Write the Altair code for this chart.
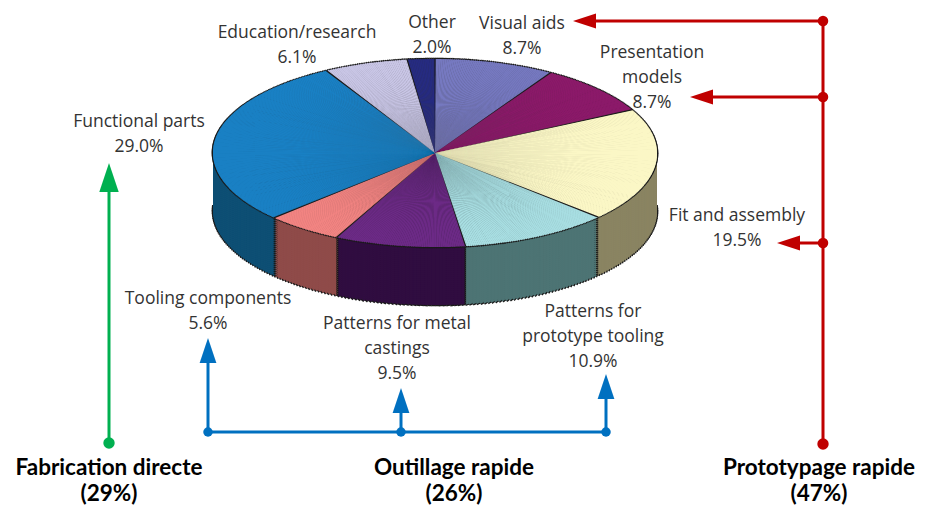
import math
import altair as alt
import pandas as pd

# ---------------- data ----------------
SEGMENTS = ["Visual aids", "Presentation\nmodels", "Fit and assembly",
            "Patterns for\nprototype tooling", "Patterns for metal\ncastings",
            "Tooling components", "Functional parts", "Education/research", "Other"]
SHARES = [8.7, 8.7, 19.5, 10.9, 9.5, 5.6, 29.0, 6.1, 2.0]
TOP_COLORS = ["#7679c0", "#8c1a6a", "#fbf7c6", "#a8dee2", "#6c2a86",
              "#f28482", "#1a80c4", "#c9c6e6", "#262b80"]
SIDE_COLORS = ["#3f4174", "#4c0c3a", "#8a8462", "#4d7474", "#300d40",
               "#8f4b49", "#0e4f74", "#6e6b88", "#121540"]
GROUPS = ["Fabrication directe", "Outillage rapide", "Prototypage rapide"]
GROUP_SHARES = ["(29%)", "(26%)", "(47%)"]

# ---------------- layout (pixels) ----------------
W, H = 911, 498
CX, CY, A, B, DEPTH = 427, 145, 222, 94, 58
LABEL_XY = [(514, 21), (644, 50), (729, 213), (585, 309), (389, 321),
            (200, 296), (131, 119), (289, 30), (424, 19.5)]
GROUP_XY = [(101, 467), (446, 467), (811, 467)]
GREEN, BLUE, RED = "#00b050", "#0070c0", "#c00000"
INK = "#1a1a1a"

df = pd.DataFrame({"seg": SEGMENTS, "share": SHARES, "top": TOP_COLORS,
                   "side": SIDE_COLORS, "idx": list(range(len(SHARES)))})


def ph(t):
    return f"((atan2({A}*sin({t}), {B}*cos({t})) + 2*PI) % (2*PI)) / (2*PI)"


def pie_base(per_turn):
    # each slice is split into thin sub-wedges so that the pie follows an ellipse;
    # the extra last row of every slice (k == steps) is its black start edge
    return (alt.Chart(df)
            .transform_joinaggregate(total="sum(share)")
            .transform_window(cum="sum(share)", sort=[alt.SortField("idx")], frame=[None, 0])
            .transform_calculate(f1="datum.cum / datum.total")
            .transform_calculate(f0="(datum.cum - datum.share) / datum.total")
            .transform_calculate(steps=f"max(1, ceil((datum.f1 - datum.f0) * {per_turn}))")
            .transform_calculate(seq="sequence(0, datum.steps + 1)")
            .transform_flatten(["seq"], as_=["k"])
            .transform_calculate(edge="datum.k >= datum.steps ? 1 : 0")
            .transform_calculate(ta="2*PI*(datum.f0 + (datum.f1 - datum.f0) * (datum.edge ? 0 : datum.k) / datum.steps)")
            .transform_calculate(tb="datum.edge ? datum.ta : 2*PI*(datum.f0 + (datum.f1 - datum.f0) * (datum.k + 1) / datum.steps)")
            .transform_calculate(tm="(datum.ta + datum.tb) / 2")
            .transform_calculate(rp=f"sqrt(pow({A}*sin(datum.tm), 2) + pow({B}*cos(datum.tm), 2))")
            .transform_calculate(pa=ph("datum.ta"))
            .transform_calculate(pb0=ph("datum.tb"))
            .transform_calculate(pb="datum.pb0 < datum.pa ? datum.pb0 + 1 : datum.pb0")
            .transform_calculate(w="0.65 / (datum.rp * 2 * PI)")
            .transform_calculate(th0="datum.edge ? datum.pa - datum.w : datum.pa")
            .transform_calculate(th1="datum.edge ? datum.pa + datum.w : datum.pb + 0.0006"))


THETA = alt.Theta("th0:Q", scale=alt.Scale(domain=[0, 1], range=[0, 2 * math.pi]), stack=None)
THETA2 = alt.Theta2("th1:Q")
RADIUS = alt.Radius("r:Q", scale=alt.Scale(type="linear", domain=[0, 300], range=[0, 300]))
FRONT = "datum.tb >= PI/2 - 0.05 && datum.ta <= 1.5*PI + 0.05"

layers = []
# black rim under the bottom of the side wall
layers.append(pie_base(360)
              .transform_filter(f"!datum.edge && {FRONT}")
              .transform_calculate(r="datum.rp + 1.3")
              .mark_arc(color=INK)
              .encode(theta=THETA, theta2=THETA2, radius=RADIUS,
                      x=alt.value(CX), y=alt.value(CY + DEPTH)))
# side wall: stacked copies of the front half, deepest first
for s in range(DEPTH, 0, -2):
    layers.append(pie_base(360)
                  .transform_filter(FRONT)
                  .transform_calculate(r="datum.edge ? datum.rp + 0.5 : datum.rp")
                  .transform_calculate(col=f"datum.edge ? '{INK}' : datum.side")
                  .mark_arc()
                  .encode(theta=THETA, theta2=THETA2, radius=RADIUS,
                          color=alt.Color("col:N", scale=None),
                          x=alt.value(CX), y=alt.value(CY + s)))
# top face outline, fill and edges
layers.append(pie_base(720)
              .transform_filter("!datum.edge")
              .transform_calculate(r="datum.rp + 1.3")
              .mark_arc(color=INK)
              .encode(theta=THETA, theta2=THETA2, radius=RADIUS,
                      x=alt.value(CX), y=alt.value(CY)))
layers.append(pie_base(720)
              .transform_filter("!datum.edge")
              .transform_calculate(r="datum.rp")
              .mark_arc()
              .encode(theta=THETA, theta2=THETA2, radius=RADIUS,
                      color=alt.Color("top:N", scale=None),
                      x=alt.value(CX), y=alt.value(CY)))
layers.append(pie_base(720)
              .transform_filter("datum.edge")
              .transform_calculate(r="datum.rp + 0.5")
              .mark_arc(color=INK)
              .encode(theta=THETA, theta2=THETA2, radius=RADIUS,
                      x=alt.value(CX), y=alt.value(CY)))

# ---------------- labels ----------------
lab_df = pd.DataFrame({"seg": SEGMENTS, "share": SHARES,
                       "lx": [p[0] for p in LABEL_XY], "ly": [p[1] for p in LABEL_XY]})
layers.append(alt.Chart(lab_df)
              .transform_calculate(txt="datum.seg + '\\n' + format(datum.share, '.1f') + '%'")
              .mark_text(font="Open Sans", fontSize=17.5, color="#333333", lineBreak="\n",
                         lineHeight=25, align="center", baseline="alphabetic")
              .encode(x=alt.X("lx:Q", scale=None), y=alt.Y("ly:Q", scale=None), text="txt:N"))

grp_df = pd.DataFrame({"g": GROUPS, "p": GROUP_SHARES,
                       "gx": [p[0] for p in GROUP_XY], "gy": [p[1] for p in GROUP_XY]})
layers.append(alt.Chart(grp_df)
              .transform_calculate(txt="datum.g + '\\n' + datum.p")
              .mark_text(font="Lato", fontSize=22.5, fontWeight="bold", color="#000000",
                         lineBreak="\n", lineHeight=26, align="center", baseline="alphabetic")
              .encode(x=alt.X("gx:Q", scale=None), y=alt.Y("gy:Q", scale=None), text="txt:N"))

# ---------------- arrows ----------------
ONE = alt.Data(values=[{"a": 1}])
UP = "M0,-1L0.67,1L-0.67,1Z"
LEFT = "M-1,0L1,-0.65L1,0.65Z"


def seg(x1, y1, x2, y2, color):
    return alt.Chart(ONE).mark_rule(color=color, strokeWidth=3).encode(
        x=alt.value(x1), y=alt.value(y1), x2=alt.value(x2), y2=alt.value(y2))


def dot(x, y, color, size):
    return alt.Chart(ONE).mark_circle(color=color, size=size, opacity=1).encode(
        x=alt.value(x), y=alt.value(y))


def head(x, y, color, size, shape):
    return alt.Chart(ONE).mark_point(shape=shape, filled=True, color=color, size=size,
                                     opacity=1, strokeWidth=0).encode(
        x=alt.value(x), y=alt.value(y))


layers += [
    # green
    seg(101, 435, 101, 180, GREEN), head(101, 169.5, GREEN, 841, UP), dot(101, 435, GREEN, 130),
    # blue
    seg(200, 424, 598, 424, BLUE),
    seg(200, 424, 200, 350, BLUE), head(200, 342.5, BLUE, 625, UP),
    seg(393, 424, 393, 400, BLUE), head(393, 392.5, BLUE, 625, UP),
    seg(598, 424, 598, 386, BLUE), head(598, 378.5, BLUE, 625, UP),
    dot(200, 424, BLUE, 90), dot(393, 424, BLUE, 90), dot(598, 424, BLUE, 90),
    # red
    seg(815, 13, 815, 436, RED),
    seg(815, 13, 585, 13, RED), head(576.5, 13, RED, 529, LEFT),
    seg(815, 89, 700, 89, RED), head(693.5, 89, RED, 529, LEFT),
    seg(815, 235, 790, 235, RED), head(780.5, 235, RED, 529, LEFT),
    dot(815, 13, RED, 110), dot(815, 89, RED, 110), dot(815, 235, RED, 110), dot(815, 436, RED, 130),
]

chart = (alt.layer(*layers)
         .properties(width=W, height=H, padding=0, background="white",
                     autosize=alt.AutoSizeParams(type="none"))
         .configure_view(stroke=None))

chart.save("out.html", embed_options={"renderer": "svg", "actions": False})
